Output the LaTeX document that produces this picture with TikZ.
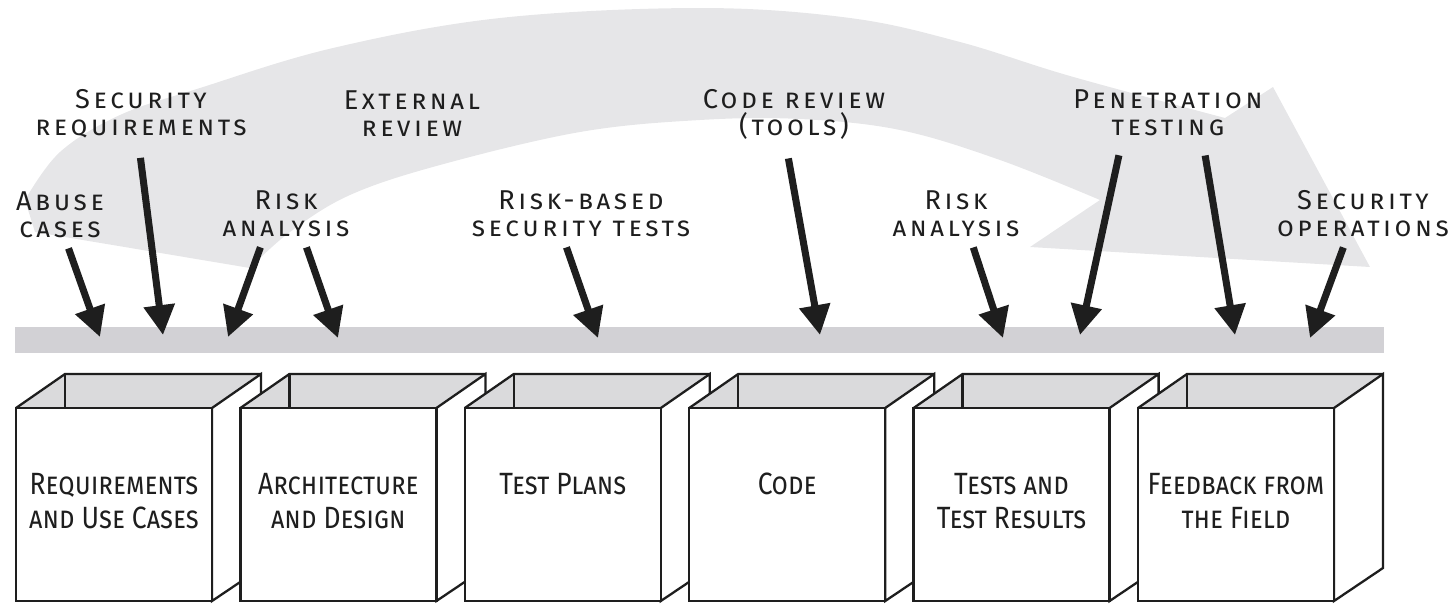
\documentclass[tikz,border=0pt]{standalone}
\usepackage{fontspec}
\setmainfont{Fira Sans}
\newfontfamily\labfont{Fira Sans}[LetterSpace=13]
\newfontfamily\boxfont{Fira Sans}[FakeStretch=0.86]
\usepackage{tikz}
\usetikzlibrary{arrows.meta}
\definecolor{ArcGrey}{HTML}{E6E6E8}
\definecolor{BarGrey}{HTML}{D2D1D5}
\definecolor{BoxTop}{HTML}{DADADC}
\definecolor{InkCol}{HTML}{1E1E1E}
% open box: #1 name, #2 left x (px), #3 text
\newcommand{\phasebox}[3]{%
  \fill[BoxTop] (#2,408) -- (#2+49,374) -- (#2+245,374) -- (#2+196,408) -- cycle;
  \filldraw[edge, fill=white] (#2+196,408) -- (#2+245,374) -- (#2+245,568) -- (#2+196,601) -- cycle;
  \draw[edge] (#2,408) -- (#2+49,374) -- (#2+245,374);
  \draw[edge] (#2+49,374) -- (#2+49,408);
  \node[face] (#1) at (#2+98,504.5) {};
  \node[phtext] (#1-t) at ([yshift=-1.32cm]#1.north) {#3};
}

\begin{document}
\begin{tikzpicture}[x=0.02cm, y=-0.02cm, >=Stealth]
  \tikzstyle{lab}=[font=\labfont\fontsize{15.5}{15.4}\selectfont\scshape, text=InkCol,
               align=center, inner sep=0pt]
  \tikzstyle{phtext}=[font=\boxfont\fontsize{17.5}{19.3}\selectfont\scshape, text=InkCol,
               align=center, inner sep=0pt, anchor=north]
  \tikzstyle{edge}=[draw=InkCol, line width=1.3pt, line join=miter]
  \tikzstyle{face}=[edge, fill=white, minimum width=3.92cm, minimum height=3.86cm,
               inner sep=0pt]
  \tikzstyle{pin}=[draw=InkCol, line width=4pt, shorten <=6pt,
               -{Triangle[width=17pt,length=17pt]}]
  \tikzstyle{pinlong}=[pin, shorten <=11pt]
  \useasboundingbox (0,0) rectangle (1455,603);
  % big process arrow
  \fill[ArcGrey] (25,200) -- plot[smooth, tension=0.6] coordinates {(25,200) (60,152)
      (120,115) (200,88) (333,48) (500,18) (700,8) (850,18) (960,42) (1070,76) (1225,118)}
    -- (1273,87) -- (1370,267) -- (1030,247) -- (1100,200)
    -- plot[smooth, tension=0.6] coordinates {(1100,200) (1000,160) (900,130) (800,119)
      (700,120) (580,132) (440,165) (350,195) (290,232) (250,268)}
    -- (35,232) -- cycle;
  % time line
  \fill[BarGrey] (15,327) rectangle (1384,353);
  \coordinate (t1) at (100,337);
  \coordinate (t2) at (163,335);
  \coordinate (t3) at (228,337);
  \coordinate (t4) at (338,338);
  \coordinate (t5) at (598,338);
  \coordinate (t6) at (820,335);
  \coordinate (t7) at (1003,338);
  \coordinate (t8) at (1080,335);
  \coordinate (t9) at (1235,335);
  \coordinate (t10) at (1310,338);
  % touchpoints
  \node[lab] (abuse) at (60,215) {Abuse\\cases};
  \node[lab] (secreq) at (141,114) {Security\\requirements};
  \node[lab] (extrev) at (412,114) {External\\review};
  \node[lab] (riska) at (286,214) {Risk\\analysis};
  \node[lab] (rbtests) at (581,214) {Risk-based\\security tests};
  \node[lab] (coderev) at (794,114) {Code review\\(tools)};
  \node[lab] (riskb) at (956,214) {Risk\\analysis};
  \node[lab] (pentest) at (1168,113) {Penetration\\testing};
  \node[lab] (secops) at (1363,214) {Security\\operations};
  \draw[pin] ([xshift=0.1cm]abuse.south) -- (t1);
  \draw[pinlong] ([xshift=-0.06cm]secreq.south) -- (t2);
  \draw[pin] ([xshift=-0.44cm]riska.south) -- (t3);
  \draw[pin] ([xshift=0.34cm]riska.south) -- (t4);
  \draw[pin] ([xshift=-0.36cm]rbtests.south) -- (t5);
  \draw[pinlong] ([xshift=-0.18cm]coderev.south) -- (t6);
  \draw[pin] ([xshift=0.28cm]riskb.south) -- (t7);
  \draw[pinlong] ([xshift=-0.9cm]pentest.south) -- (t8);
  \draw[pinlong] ([xshift=0.68cm]pentest.south) -- (t9);
  \draw[pin] ([xshift=-0.32cm]secops.south) -- (t10);
  % artifacts
  \phasebox{req}{16}{Requirements\\and Use Cases}
  \phasebox{arch}{240.4}{Architecture\\and Design}
  \phasebox{plans}{464.8}{Test Plans}
  \phasebox{code}{689.2}{Code}
  \phasebox{tests}{913.6}{Tests and\\Test Results}
  \phasebox{field}{1138}{Feedback from\\the Field}
\end{tikzpicture}
\end{document}
